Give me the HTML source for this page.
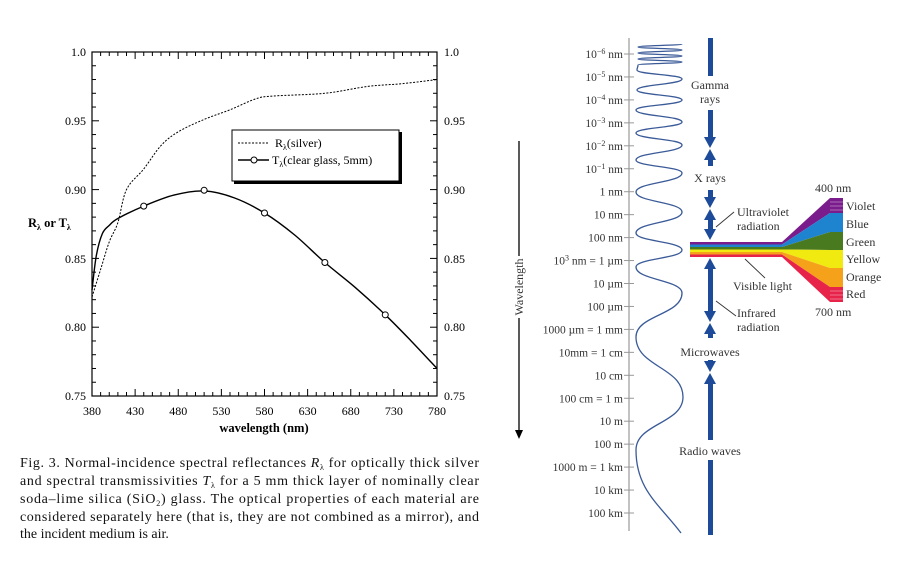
<!DOCTYPE html>
<html><head><meta charset="utf-8"><style>
html,body{margin:0;padding:0;background:#fff;}
svg{display:block;}
text{font-family:"Liberation Serif",serif;}
</style></head><body>
<svg id="s" width="918" height="579" viewBox="0 0 918 579" xmlns="http://www.w3.org/2000/svg">
<rect width="918" height="579" fill="#fff"/>
<rect x="92" y="52" width="345" height="344" fill="none" stroke="#000" stroke-width="1.2"/>
<g id="ticks" stroke="#000" stroke-width="1"></g>
<g font-size="12" fill="#000">
<text x="86" y="56" text-anchor="end">1.0</text>
<text x="86" y="125" text-anchor="end">0.95</text>
<text x="86" y="194" text-anchor="end">0.90</text>
<text x="86" y="263" text-anchor="end">0.85</text>
<text x="86" y="331" text-anchor="end">0.80</text>
<text x="86" y="400" text-anchor="end">0.75</text>
<text x="444" y="56">1.0</text>
<text x="444" y="125">0.95</text>
<text x="444" y="194">0.90</text>
<text x="444" y="263">0.85</text>
<text x="444" y="331">0.80</text>
<text x="444" y="400">0.75</text>
</g>
<g font-size="12" fill="#000" text-anchor="middle" id="xl"></g>
<text x="264" y="432" font-size="12.5" font-weight="bold" text-anchor="middle">wavelength (nm)</text>
<text x="28" y="227" font-size="12.5" font-weight="bold">R<tspan font-size="8" dy="3">λ</tspan><tspan dy="-3"> or T</tspan><tspan font-size="8" dy="3">λ</tspan></text>
<path id="rp" fill="none" stroke="#000" stroke-width="1" stroke-dasharray="2,1.5"/>
<path id="tp" fill="none" stroke="#000" stroke-width="1.4"/>
<g id="tm" fill="#fff" stroke="#000" stroke-width="1"></g>
<rect x="234" y="132" width="168" height="52" fill="#000"/>
<rect x="232" y="130" width="167" height="51" fill="#fff" stroke="#000" stroke-width="1"/>
<line x1="238" y1="143" x2="269" y2="143" stroke="#000" stroke-dasharray="2,1.5"/>
<text x="275" y="147" font-size="12">R<tspan font-size="8" dy="3">λ</tspan><tspan dy="-3">(silver)</tspan></text>
<line x1="238" y1="160" x2="269" y2="160" stroke="#000" stroke-width="1.4"/>
<circle cx="254" cy="160" r="3" fill="#fff" stroke="#000"/>
<text x="272" y="164" font-size="12">T<tspan font-size="8" dy="3">λ</tspan><tspan dy="-3">(clear glass, 5mm)</tspan></text>
<g font-size="14" fill="#111">
<text x="20" y="467" textLength="459" lengthAdjust="spacing">Fig. 3. Normal-incidence spectral reflectances <tspan font-style="italic">R</tspan><tspan font-size="8" dy="3">λ</tspan><tspan dy="-3"> for optically thick silver</tspan></text>
<text x="20" y="485" textLength="459" lengthAdjust="spacing">and spectral transmissivities <tspan font-style="italic">T</tspan><tspan font-size="8" dy="3">λ</tspan><tspan dy="-3"> for a 5 mm thick layer of nominally clear</tspan></text>
<text x="20" y="503" textLength="459" lengthAdjust="spacing">soda–lime silica (SiO<tspan font-size="8" dy="3">2</tspan><tspan dy="-3">) glass. The optical properties of each material are</tspan></text>
<text x="20" y="521" textLength="459" lengthAdjust="spacing">considered separately here (that is, they are not combined as a mirror), and</text>
<text x="20" y="538">the incident medium is air.</text>
</g>
<line x1="629" y1="38" x2="629" y2="531" stroke="#999" stroke-width="1.2"/>
<g id="rt" font-size="11.5" fill="#333" text-anchor="end"></g>
<g stroke="#999" stroke-width="1" id="rtk"></g>
<line x1="519" y1="141" x2="519" y2="433" stroke="#000" stroke-width="1.3"/>
<polygon points="515,430 523,430 519,439" fill="#000"/>
<rect x="512" y="256" width="14" height="62" fill="#fff"/>
<text transform="translate(523,287) rotate(-90)" font-size="12" fill="#333" text-anchor="middle">Wavelength</text>
<path id="wave" fill="none" stroke="#3a5a98" stroke-width="1.3"/>
<g id="bar" fill="#1d4b99"></g>
<g font-size="12" fill="#333" text-anchor="middle">
<text x="710" y="89">Gamma</text><text x="710" y="103">rays</text>
<text x="710" y="182">X rays</text>
<text x="710" y="356">Microwaves</text>
<text x="710" y="455">Radio waves</text>
</g>
<g font-size="12" fill="#333">
<text x="737" y="216">Ultraviolet</text><text x="737" y="230">radiation</text>
<text x="733" y="290">Visible light</text>
<text x="737" y="317">Infrared</text><text x="737" y="331">radiation</text>
<text x="815" y="192">400 nm</text><text x="815" y="316">700 nm</text>
<text x="846" y="210">Violet</text><text x="846" y="228">Blue</text><text x="846" y="246">Green</text>
<text x="846" y="263">Yellow</text><text x="846" y="281">Orange</text><text x="846" y="298">Red</text>
</g>
<g stroke="#333" stroke-width="0.9">
<line x1="734" y1="212" x2="716" y2="227"/>
<line x1="745" y1="259" x2="765" y2="278"/>
<line x1="716" y1="301" x2="736" y2="316"/>
</g>
<g id="fan"></g>
</svg>
<script>
const NS="http://www.w3.org/2000/svg";
function el(t,a,p){const e=document.createElementNS(NS,t);for(const k in a)e.setAttribute(k,a[k]);document.getElementById(p).appendChild(e);return e;}
const X=w=>92+(w-380)*345/400, Y=v=>396-(v-0.75)*344/0.25;
for(let w=380;w<=780;w+=10){const L=(w-380)%50==0?7:4;
 el('line',{x1:X(w),y1:396,x2:X(w),y2:396-L},'ticks');el('line',{x1:X(w),y1:52,x2:X(w),y2:52+L},'ticks');}
for(let i=0;i<=25;i++){const v=0.75+i*0.01,L=i%5==0?7:4;
 el('line',{x1:92,y1:Y(v),x2:92+L,y2:Y(v)},'ticks');el('line',{x1:437,y1:Y(v),x2:437-L,y2:Y(v)},'ticks');}
for(let w=380;w<=780;w+=50){const t=el('text',{x:X(w),y:415},'xl');t.textContent=w;}
function smooth(pts){let d=`M${pts[0][0]},${pts[0][1]}`;for(let i=0;i<pts.length-1;i++){const p0=pts[i-1]||pts[i],p1=pts[i],p2=pts[i+1],p3=pts[i+2]||p2;
 d+=` C${p1[0]+(p2[0]-p0[0])/6},${p1[1]+(p2[1]-p0[1])/6} ${p2[0]-(p3[0]-p1[0])/6},${p2[1]-(p3[1]-p1[1])/6} ${p2[0]},${p2[1]}`;}return d;}
const R=[[380,.822],[390,.842],[400,.862],[410,.876],[420,.900],[440,.915],[460,.932],[480,.942],[510,.951],[540,.958],[570,.966],[590,.968],[650,.970],[700,.975],[740,.977],[780,.980]];
const T=[[380,.827],[385,.852],[392,.868],[400,.874],[410,.879],[440,.888],[475,.896],[510,.899],[545,.894],[580,.883],[615,.867],[650,.847],[685,.829],[720,.809],[750,.790],[780,.770]];
document.getElementById('rp').setAttribute('d',smooth(R.map(p=>[X(p[0]),Y(p[1])])));
document.getElementById('tp').setAttribute('d',smooth(T.map(p=>[X(p[0]),Y(p[1])])));
[[440,.888],[510,.8995],[580,.883],[650,.847],[720,.809]].forEach(p=>el('circle',{cx:X(p[0]),cy:Y(p[1]),r:3},'tm'));
const labs=['10<tspan font-size="8" dy="-4">−6</tspan><tspan dy="4"> nm</tspan>','10<tspan font-size="8" dy="-4">−5</tspan><tspan dy="4"> nm</tspan>','10<tspan font-size="8" dy="-4">−4</tspan><tspan dy="4"> nm</tspan>','10<tspan font-size="8" dy="-4">−3</tspan><tspan dy="4"> nm</tspan>','10<tspan font-size="8" dy="-4">−2</tspan><tspan dy="4"> nm</tspan>','10<tspan font-size="8" dy="-4">−1</tspan><tspan dy="4"> nm</tspan>','1 nm','10 nm','100 nm','10<tspan font-size="8" dy="-4">3</tspan><tspan dy="4"> nm = 1 µm</tspan>','10 µm','100 µm','1000 µm = 1 mm','10mm = 1 cm','10 cm','100 cm = 1 m','10 m','100 m','1000 m = 1 km','10 km','100 km'];
labs.forEach((s,i)=>{const y=54+i*22.95;const t=el('text',{x:623,y:y+4},'rt');t.innerHTML=s;el('line',{x1:624,y1:y,x2:634,y2:y},'rtk');});
const ex=[];let side=1;for(let y=44;y<=66;y+=3){ex.push([side?682:638,y]);side^=1;}
[[637,70],[682,79],[637,90],[682,100],[636,110],[682,122],[636,133],[682,145],[636,160],[682,173],[636,192],[682,212],[636,233],[682,250],[636,267],[682,293],[636,337],[683,397],[636,450]].forEach(p=>ex.push(p));
let d=`M${ex[0][0]},${ex[0][1]}`;
for(let i=0;i<ex.length-1;i++){const a=ex[i],b=ex[i+1],m=(a[1]+b[1])/2;d+=` C${a[0]},${m} ${b[0]},${m} ${b[0]},${b[1]}`;}
d+=` C636,490 660,505 681,533`;
document.getElementById('wave').setAttribute('d',d);
const B=(y1,y2)=>el('rect',{x:708,y:y1,width:5,height:y2-y1},'bar');
const dn=y=>el('polygon',{points:`704,${y-11} 716,${y-11} 710,${y}`},'bar');
const up=y=>el('polygon',{points:`704,${y+11} 716,${y+11} 710,${y}`},'bar');
B(38,76);B(110,140);dn(148);up(149);B(158,166);B(190,201);dn(208);up(209);B(218,232);dn(240);up(258);B(266,314);dn(322);up(323);B(332,338);B(360,365);dn(372);up(373);B(382,440);B(460,535);
const cols=['#7a1c8c','#1f84cf','#4a7a1f','#f0ea10','#f5a21a','#e8234a'];
const ry=[198,213,232,250,268,287,302];
cols.forEach((c,i)=>{const l1=242+i*2.5,l2=242+(i+1)*2.5;
 el('polygon',{points:`690,${l1} 782,${l1} 830,${ry[i]} 843,${ry[i]} 843,${ry[i+1]} 830,${ry[i+1]} 782,${l2} 690,${l2}`,fill:c},'fan');});
[202,206,210,291,295,299].forEach(y=>el('line',{x1:830,y1:y,x2:843,y2:y,stroke:'#fff','stroke-width':0.6,opacity:0.6},'fan'));
</script>
</body></html>
